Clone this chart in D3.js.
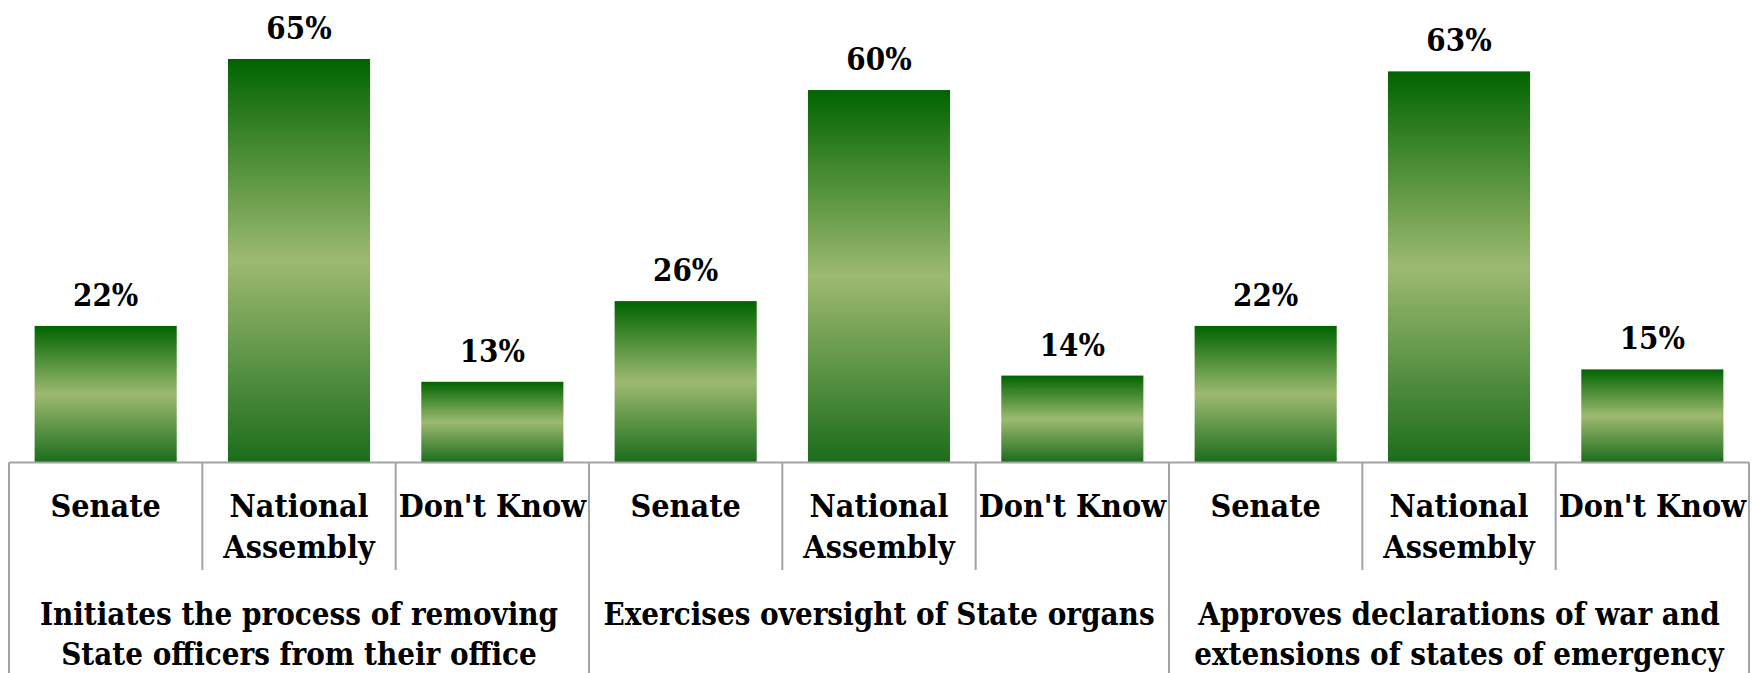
<!DOCTYPE html>
<html lang="en">
<head>
    <meta charset="UTF-8">
    <title>Senate vs National Assembly</title>
    <script src="https://d3js.org/d3.v7.min.js"></script>
    <style>
        body { margin: 0; background: #fff; }
    </style>
</head>
<body>
    <svg id="chart"></svg>
    <script>
        // data
        const groups = [
            ["Initiates the process of removing", "State officers from their office"],
            ["Exercises oversight of State organs"],
            ["Approves declarations of war and", "extensions of states of emergency"]
        ];
        const categories = [["Senate"], ["National", "Assembly"], ["Don't Know"]];
        const values = [
            [22, 65, 13],
            [26, 60, 14],
            [22, 63, 15]
        ];

        const width = 1752;
        const height = 673;
        const left = 9, right = 1749;
        const baseY = 462.5;
        const serif = "'DejaVu Serif Condensed', 'DejaVu Serif', serif";

        const svg = d3.select("#chart")
            .attr("width", width)
            .attr("height", height)
            .style("font-family", serif)
            .style("font-stretch", "condensed")
            .style("font-weight", "bold");

        const defs = svg.append("defs");
        const grad = defs.append("linearGradient")
            .attr("id", "barGrad")
            .attr("x1", 0).attr("y1", 0)
            .attr("x2", 0).attr("y2", 1);
        grad.append("stop").attr("offset", "0%").attr("stop-color", "#006400");
        grad.append("stop").attr("offset", "50%").attr("stop-color", "#9dba70");
        grad.append("stop").attr("offset", "100%").attr("stop-color", "#1b6d1b");

        // flatten into one row per bar
        const rows = [];
        groups.forEach((g, gi) => {
            categories.forEach((c, ci) => {
                rows.push({ key: gi + "-" + ci, group: gi, cat: c, value: values[gi][ci] });
            });
        });

        const x = d3.scaleBand()
            .domain(rows.map(d => d.key))
            .range([left, right])
            .paddingInner(0.265)
            .paddingOuter(0.1325);

        const y = d3.scaleLinear()
            .domain([0, 70])
            .range([baseY, baseY - 70 * 6.208]);

        const step = x.step();
        const groupW = step * categories.length;

        // bars
        svg.selectAll("rect.bar")
            .data(rows)
            .enter()
            .append("rect")
            .attr("class", "bar")
            .attr("x", d => x(d.key))
            .attr("y", d => y(d.value))
            .attr("width", x.bandwidth())
            .attr("height", d => y(0) - y(d.value))
            .attr("fill", "url(#barGrad)");

        // value labels
        svg.selectAll("text.val")
            .data(rows)
            .enter()
            .append("text")
            .attr("class", "val")
            .attr("x", d => x(d.key) + x.bandwidth() / 2)
            .attr("y", d => y(d.value) - 20)
            .attr("text-anchor", "middle")
            .style("font-size", "31px")
            .text(d => d.value + "%");

        const lineColor = "#a3a3a3";

        // axis line
        svg.append("line")
            .attr("x1", left).attr("x2", right)
            .attr("y1", baseY).attr("y2", baseY)
            .attr("stroke", lineColor).attr("stroke-width", 2);

        // category dividers (short)
        svg.selectAll("line.catdiv")
            .data(rows.filter((d, i) => i % categories.length !== 0))
            .enter()
            .append("line")
            .attr("class", "catdiv")
            .attr("x1", d => x(d.key) - (step - x.bandwidth()) / 2)
            .attr("x2", d => x(d.key) - (step - x.bandwidth()) / 2)
            .attr("y1", baseY).attr("y2", 570)
            .attr("stroke", lineColor).attr("stroke-width", 2);

        // group dividers (full height)
        svg.selectAll("line.grpdiv")
            .data(d3.range(groups.length + 1))
            .enter()
            .append("line")
            .attr("class", "grpdiv")
            .attr("x1", i => left + i * groupW)
            .attr("x2", i => left + i * groupW)
            .attr("y1", baseY).attr("y2", height)
            .attr("stroke", lineColor).attr("stroke-width", 2);

        // category labels
        const catText = svg.selectAll("text.cat")
            .data(rows)
            .enter()
            .append("text")
            .attr("class", "cat")
            .attr("text-anchor", "middle")
            .style("font-size", "32px");
        catText.selectAll("tspan")
            .data(d => d.cat.map(t => ({ t, cx: x(d.key) + x.bandwidth() / 2 })))
            .enter()
            .append("tspan")
            .attr("x", d => d.cx)
            .attr("y", (d, i) => 517 + i * 40.5)
            .text(d => d.t);

        // group labels
        const grpText = svg.selectAll("text.grp")
            .data(groups)
            .enter()
            .append("text")
            .attr("class", "grp")
            .attr("text-anchor", "middle")
            .style("font-size", "31px");
        grpText.selectAll("tspan")
            .data((d, gi) => d.map(t => ({ t, cx: left + gi * groupW + groupW / 2 })))
            .enter()
            .append("tspan")
            .attr("x", d => d.cx)
            .attr("y", (d, i) => 625 + i * 40)
            .text(d => d.t);
    </script>
</body>
</html>
